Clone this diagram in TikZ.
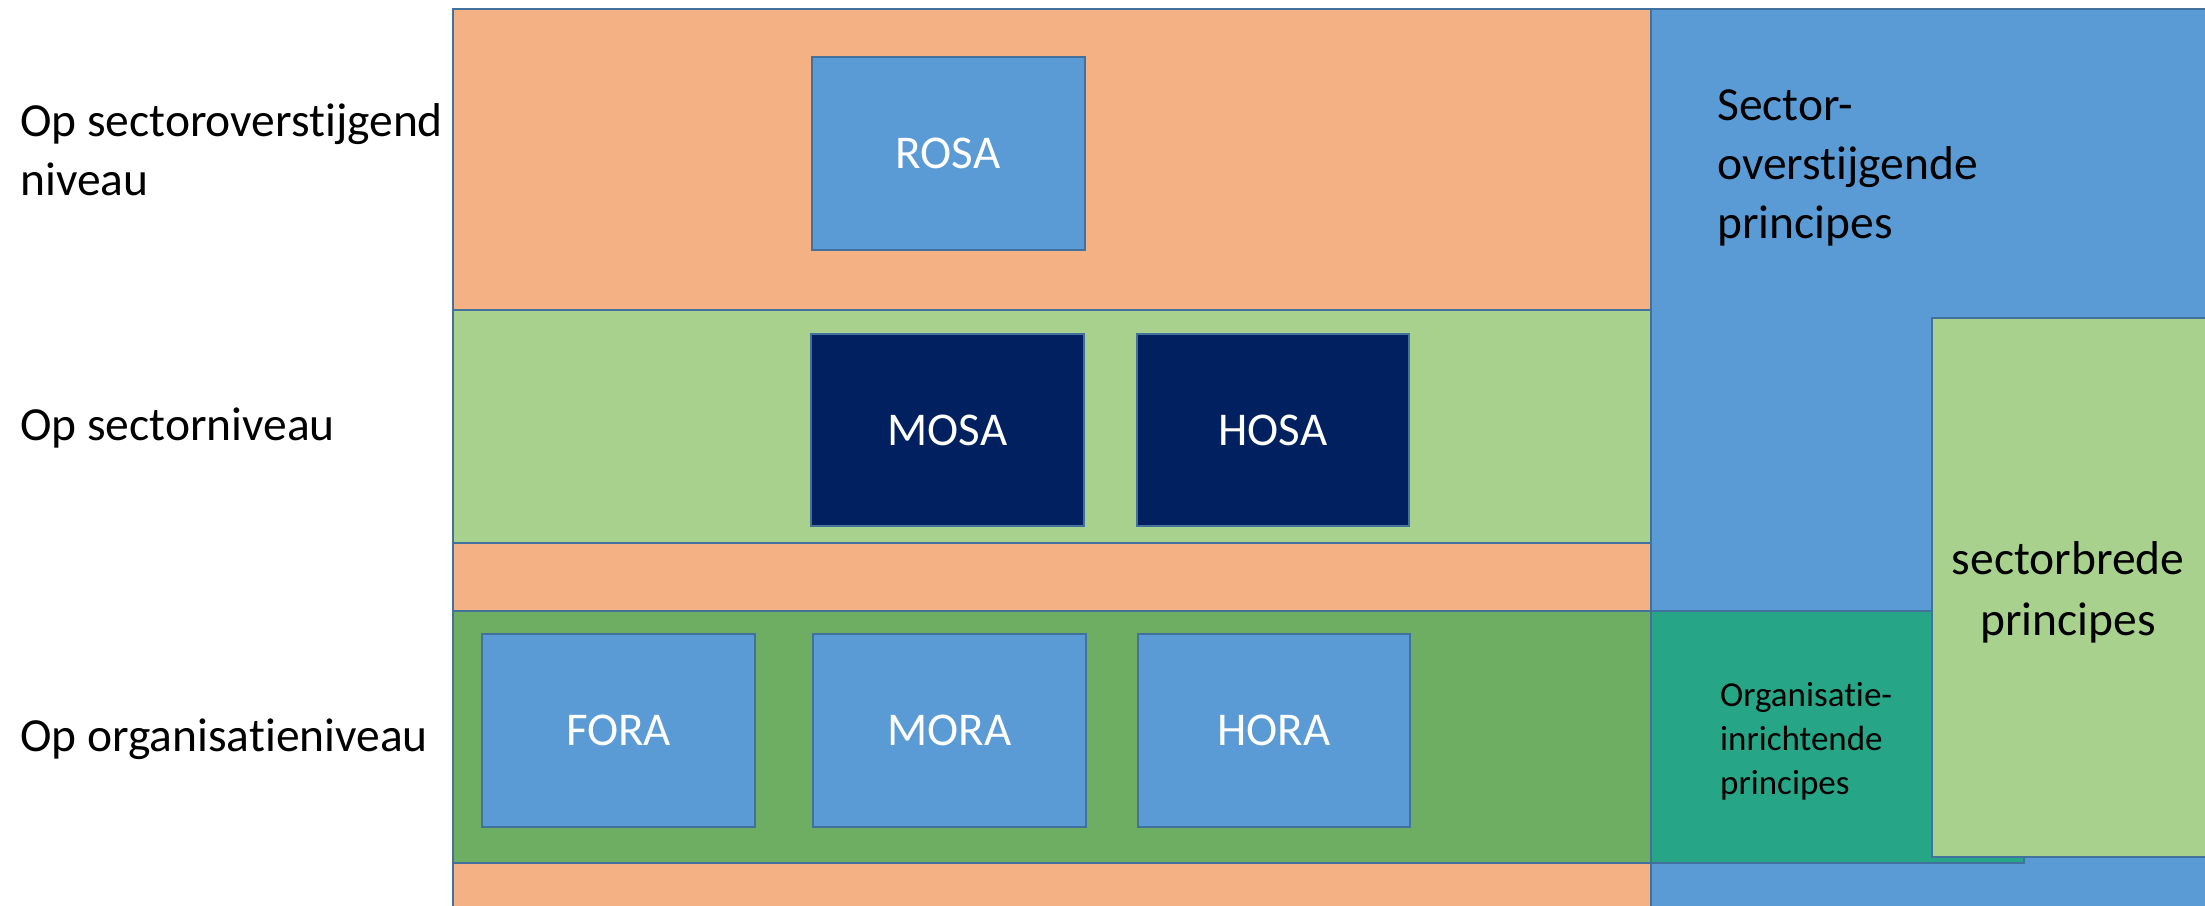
\documentclass[tikz,border=0pt]{standalone}
\usepackage{fontspec}
\setmainfont{Carlito}[Ligatures=NoCommon]
\definecolor{edge}{HTML}{41719C}
\definecolor{orangefill}{HTML}{F4B183}
\definecolor{lightgreen}{HTML}{A9D18E}
\definecolor{darkgreen}{HTML}{6DAE62}
\definecolor{bluefill}{HTML}{5B9BD5}
\definecolor{navyfill}{HTML}{002060}
\definecolor{tealfill}{HTML}{26A687}
\newcommand{\dropby}[1]{\raisebox{-5pt}{#1}}
\tikzset{
  area/.style={draw=edge, line width=2pt},
  blockbox/.style={draw=edge, line width=2pt, minimum width=273pt, minimum height=193pt, inner sep=0pt, text=white, font=\fontsize{47}{56}\selectfont},
  levellabel/.style={anchor=west, align=left, inner sep=0pt, font=\fontsize{47.5}{59}\selectfont},
}
\begin{document}
\begin{tikzpicture}[x=1pt, y=-1pt]
\useasboundingbox (0,0) rectangle (2205,905);
\clip (0,0) rectangle (2205,905);
% main areas
\path[area, fill=orangefill] (453,9) rectangle (1651,930);
\path[area, fill=lightgreen] (453,310) rectangle (1651,543);
\path[area, fill=darkgreen] (453,611) rectangle (1651,863);
\path[area, fill=bluefill] (1651,9) rectangle (2230,930);
\path[area, fill=tealfill] (1651,611) rectangle (2024,863);
\path[area, fill=lightgreen] (1932,318) rectangle (2230,857);
% blocks
\node[blockbox, fill=bluefill] (rosa) at (948,153.5) {\dropby{ROSA}};
\node[blockbox, fill=navyfill, minimum height=192pt] (mosa) at (947.5,430) {\dropby{MOSA}};
\node[blockbox, fill=navyfill, minimum height=192pt, minimum width=272pt] (hosa) at (1273,430) {\dropby{HOSA}};
\node[blockbox, fill=bluefill] (fora) at (618.5,730.5) {\dropby{FORA}};
\node[blockbox, fill=bluefill] (mora) at (949.5,730.5) {\dropby{MORA}};
\node[blockbox, fill=bluefill, minimum width=272pt] (hora) at (1274,730.5) {\dropby{HORA}};
% level labels
\node[levellabel] (lvl1) at (20,150) {Op sectoroverstijgend\\niveau};
\node[levellabel] (lvl2) at (20,428) {Op sectorniveau};
\node[levellabel] (lvl3) at (20,739) {Op organisatieniveau};
% principle labels
\node[levellabel] (sop) at (1717,168) {Sector-\\overstijgende\\principes};
\node[levellabel, font=\fontsize{35}{44}\selectfont] (oip) at (1720,741) {Organisatie-\\inrichtende\\principes};
\node[inner sep=0pt, align=center, font=\fontsize{47.5}{61}\selectfont] (sbp) at (2068,592) {sectorbrede\\principes};
\end{tikzpicture}
\end{document}
